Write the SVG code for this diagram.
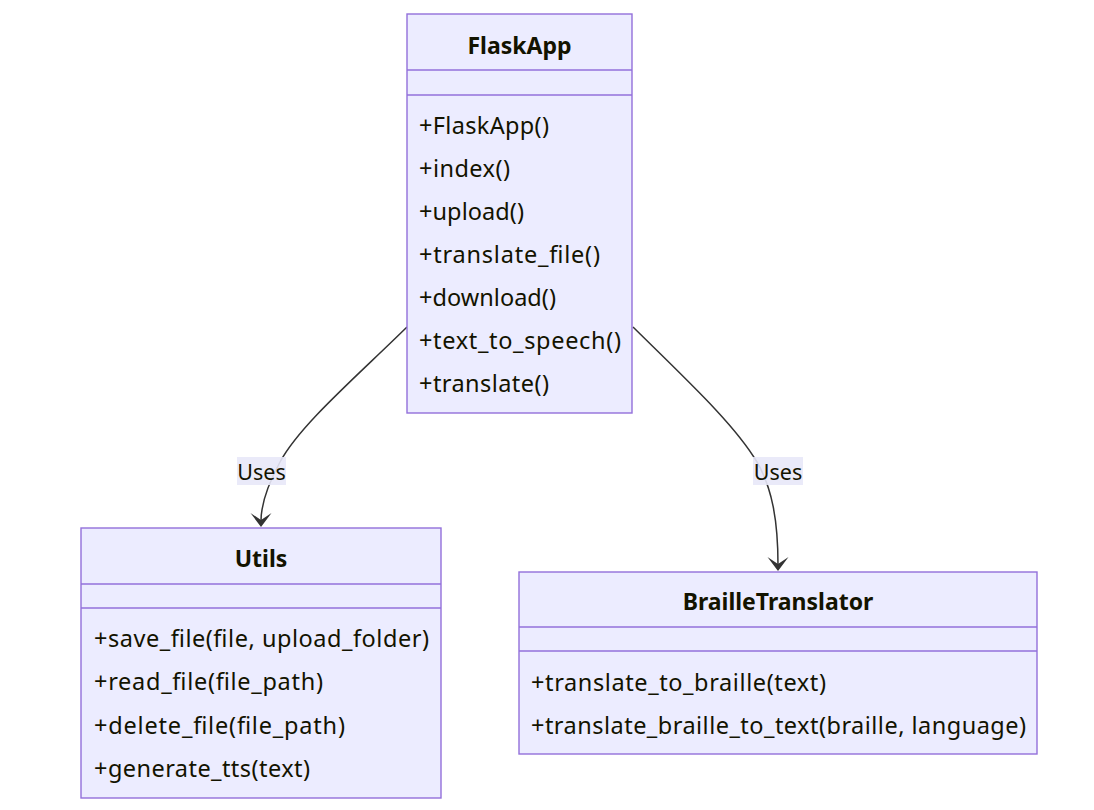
<svg xmlns="http://www.w3.org/2000/svg" width="1094" height="810" viewBox="0 0 1094 810">
<style>
.box{fill:#ECECFF;stroke:#9370DB;stroke-width:1.4}
.sep{stroke:#9370DB;stroke-width:1.4}
.title{font-family:"Noto Sans","Open Sans",sans-serif;font-size:23px;font-weight:bold;fill:#131300;text-anchor:middle;dominant-baseline:central}
.m{font-family:"Noto Sans","Open Sans",sans-serif;font-size:23.5px;fill:#131300;dominant-baseline:central}
.edge{fill:none;stroke:#333333;stroke-width:1.5}
.lblbg{fill:#E8E8F8;opacity:0.9}
.lbl{font-family:"Noto Sans","Open Sans",sans-serif;font-size:21.5px;fill:#131300;text-anchor:middle;dominant-baseline:central}
.arr{fill:#333333}
</style>
<rect width="1094" height="810" fill="#ffffff"/>
<g id="connectors">
<path class="edge" d="M407,327 C355,378 300,425 280,462 C266,488 261,505 261,521"/>
<path class="arr" d="M250.5,513 L261,527 L271.5,513 L261,520 Z"/>
<path class="edge" d="M633,327 C690,383 735,425 757,462 C772,488 778,520 778,565"/>
<path class="arr" d="M767.5,557 L778,571 L788.5,557 L778,564 Z"/>
<rect class="lblbg" x="237" y="457" width="49" height="28"/>
<text class="lbl" x="261.5" y="471">Uses</text>
<rect class="lblbg" x="753" y="457" width="50" height="28"/>
<text class="lbl" x="778" y="471">Uses</text>
</g>
<g id="FlaskApp">
<rect class="box" x="407" y="14" width="225" height="399"/>
<line class="sep" x1="407" y1="70" x2="632" y2="70"/>
<line class="sep" x1="407" y1="95" x2="632" y2="95"/>
<text class="title" x="519.5" y="45">FlaskApp</text>
<text class="m" x="419" y="125" textLength="130">+FlaskApp()</text>
<text class="m" x="419" y="168" textLength="91">+index()</text>
<text class="m" x="419" y="211" textLength="105">+upload()</text>
<text class="m" x="419" y="254" textLength="181">+translate_file()</text>
<text class="m" x="419" y="297" textLength="137">+download()</text>
<text class="m" x="419" y="340" textLength="202">+text_to_speech()</text>
<text class="m" x="419" y="383" textLength="130">+translate()</text>
</g>
<g id="Utils">
<rect class="box" x="81" y="528" width="360" height="270"/>
<line class="sep" x1="81" y1="584" x2="441" y2="584"/>
<line class="sep" x1="81" y1="608" x2="441" y2="608"/>
<text class="title" x="261" y="558">Utils</text>
<text class="m" x="94" y="638" textLength="335">+save_file(file, upload_folder)</text>
<text class="m" x="94" y="681" textLength="229">+read_file(file_path)</text>
<text class="m" x="94" y="725" textLength="251">+delete_file(file_path)</text>
<text class="m" x="94" y="768" textLength="216">+generate_tts(text)</text>
</g>
<g id="BrailleTranslator">
<rect class="box" x="519" y="572" width="518" height="182"/>
<line class="sep" x1="519" y1="627" x2="1037" y2="627"/>
<line class="sep" x1="519" y1="651" x2="1037" y2="651"/>
<text class="title" x="778" y="601">BrailleTranslator</text>
<text class="m" x="531" y="682" textLength="295">+translate_to_braille(text)</text>
<text class="m" x="531" y="725" textLength="495">+translate_braille_to_text(braille, language)</text>
</g>
</svg>
